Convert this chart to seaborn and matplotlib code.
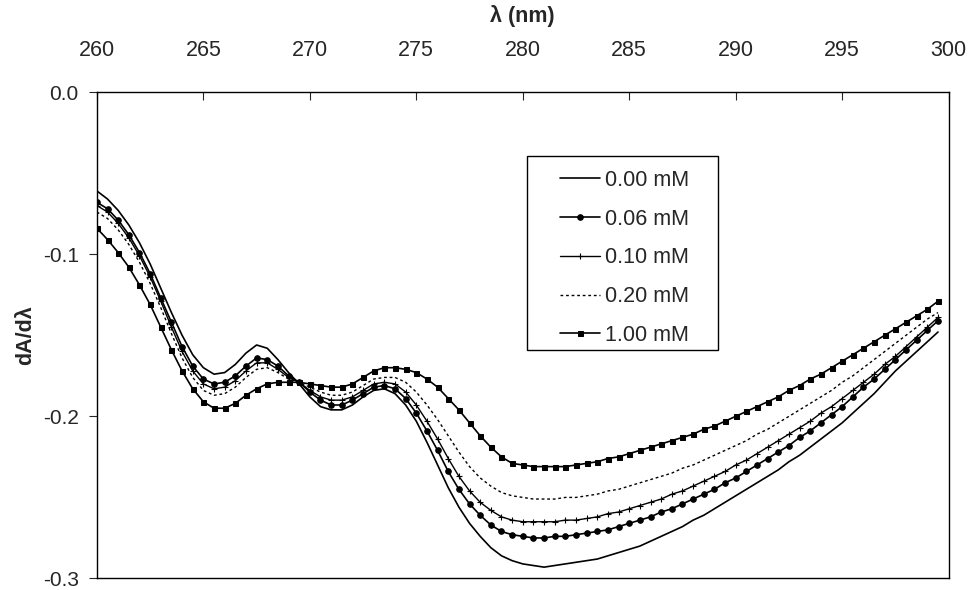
import numpy as np
import pandas as pd
import matplotlib
matplotlib.use("Agg")
import matplotlib.pyplot as plt
from matplotlib.lines import Line2D
from matplotlib.legend_handler import HandlerLine2D
from matplotlib.patches import Rectangle
import seaborn as sns

wavelength = [260 + 0.5 * i for i in range(80)]

s000 = [-0.061, -0.066, -0.073, -0.082, -0.093, -0.106, -0.121, -0.136, -0.150, -0.162,
        -0.170, -0.174, -0.173, -0.168, -0.161, -0.156, -0.158, -0.165, -0.173, -0.180,
        -0.188, -0.194, -0.196, -0.196, -0.193, -0.188, -0.184, -0.183, -0.186, -0.193,
        -0.203, -0.216, -0.230, -0.244, -0.256, -0.266, -0.274, -0.281, -0.286, -0.289,
        -0.291, -0.292, -0.293, -0.292, -0.291, -0.290, -0.289, -0.288, -0.286, -0.284,
        -0.282, -0.280, -0.277, -0.274, -0.271, -0.268, -0.264, -0.261, -0.257, -0.253,
        -0.249, -0.245, -0.241, -0.237, -0.233, -0.228, -0.224, -0.219, -0.214, -0.209,
        -0.204, -0.198, -0.192, -0.186, -0.179, -0.172, -0.166, -0.160, -0.154, -0.148]

s006 = [-0.068, -0.072, -0.079, -0.088, -0.099, -0.112, -0.127, -0.142, -0.157, -0.169,
        -0.177, -0.180, -0.179, -0.175, -0.169, -0.164, -0.165, -0.169, -0.175, -0.179,
        -0.185, -0.190, -0.193, -0.193, -0.190, -0.186, -0.182, -0.181, -0.183, -0.189,
        -0.198, -0.209, -0.221, -0.234, -0.245, -0.254, -0.261, -0.267, -0.271, -0.273,
        -0.274, -0.275, -0.275, -0.274, -0.274, -0.273, -0.272, -0.271, -0.270, -0.268,
        -0.266, -0.264, -0.262, -0.259, -0.257, -0.254, -0.251, -0.248, -0.245, -0.241,
        -0.238, -0.234, -0.230, -0.226, -0.222, -0.218, -0.213, -0.209, -0.204, -0.199,
        -0.194, -0.188, -0.182, -0.177, -0.171, -0.165, -0.159, -0.153, -0.147, -0.141]

s010 = [-0.070, -0.074, -0.081, -0.090, -0.101, -0.114, -0.129, -0.145, -0.160, -0.172,
        -0.180, -0.183, -0.182, -0.178, -0.172, -0.167, -0.167, -0.171, -0.176, -0.179,
        -0.184, -0.188, -0.190, -0.190, -0.188, -0.184, -0.180, -0.179, -0.180, -0.185,
        -0.193, -0.203, -0.214, -0.226, -0.237, -0.246, -0.253, -0.258, -0.262, -0.264,
        -0.265, -0.265, -0.265, -0.265, -0.264, -0.264, -0.263, -0.262, -0.260, -0.259,
        -0.257, -0.255, -0.253, -0.251, -0.248, -0.246, -0.243, -0.240, -0.237, -0.234,
        -0.230, -0.227, -0.223, -0.219, -0.215, -0.211, -0.207, -0.203, -0.198, -0.194,
        -0.189, -0.184, -0.179, -0.174, -0.168, -0.163, -0.157, -0.151, -0.145, -0.139]

s020 = [-0.074, -0.078, -0.085, -0.094, -0.105, -0.118, -0.133, -0.149, -0.164, -0.176,
        -0.184, -0.187, -0.186, -0.182, -0.176, -0.171, -0.170, -0.173, -0.177, -0.179,
        -0.182, -0.185, -0.187, -0.187, -0.185, -0.181, -0.177, -0.176, -0.176, -0.179,
        -0.185, -0.193, -0.202, -0.212, -0.222, -0.231, -0.238, -0.243, -0.247, -0.249,
        -0.250, -0.251, -0.251, -0.251, -0.250, -0.250, -0.249, -0.248, -0.246, -0.245,
        -0.243, -0.241, -0.239, -0.237, -0.235, -0.232, -0.230, -0.227, -0.224, -0.221,
        -0.218, -0.215, -0.211, -0.208, -0.204, -0.200, -0.196, -0.192, -0.188, -0.184,
        -0.179, -0.175, -0.170, -0.165, -0.160, -0.155, -0.150, -0.145, -0.140, -0.136]

s100 = [-0.084, -0.091, -0.099, -0.108, -0.119, -0.131, -0.145, -0.159, -0.172, -0.183,
        -0.191, -0.195, -0.195, -0.192, -0.187, -0.183, -0.180, -0.179, -0.179, -0.179,
        -0.180, -0.181, -0.182, -0.182, -0.180, -0.176, -0.172, -0.170, -0.170, -0.171,
        -0.173, -0.177, -0.182, -0.189, -0.196, -0.204, -0.212, -0.219, -0.225, -0.229,
        -0.230, -0.231, -0.231, -0.231, -0.231, -0.230, -0.229, -0.228, -0.226, -0.225,
        -0.223, -0.221, -0.219, -0.217, -0.215, -0.213, -0.211, -0.208, -0.206, -0.203,
        -0.200, -0.197, -0.194, -0.191, -0.188, -0.184, -0.181, -0.177, -0.174, -0.170,
        -0.166, -0.162, -0.158, -0.154, -0.150, -0.146, -0.142, -0.138, -0.134, -0.129]

labels = ["0.00 mM", "0.06 mM", "0.10 mM", "0.20 mM", "1.00 mM"]
series = [s000, s006, s010, s020, s100]

x_ticks = [260, 265, 270, 275, 280, 285, 290, 295, 300]
y_ticks = [0.0, -0.1, -0.2, -0.3]

sns.set_style("ticks")
plt.rcParams["font.family"] = ["Liberation Sans", "DejaVu Sans"]

fig = plt.figure(figsize=(9.69, 5.90), dpi=100)
ax = fig.add_axes([0.100, 0.0195, 0.879, 0.8245])

styles = [
    dict(marker=None, linestyle="-", linewidth=1.2),
    dict(marker="o", markersize=4, linestyle="-", linewidth=1.2),
    dict(marker="+", markersize=5, markeredgewidth=0.8, linestyle="-", linewidth=1.0),
    dict(marker=None, linestyle=(0, (2, 2)), linewidth=1.0),
    dict(marker="s", markersize=3.6, linestyle="-", linewidth=1.2),
]

for lab, vals, st in zip(labels, series, styles):
    df = pd.DataFrame({"wavelength": wavelength, "value": vals})
    sns.lineplot(data=df, x="wavelength", y="value", ax=ax, color="black",
                 label=lab, markeredgecolor="black", markerfacecolor="black", **st)

ax.set_xlim(260, 300)
ax.set_ylim(-0.3, 0.0)
ax.set_xticks(x_ticks)
ax.set_yticks(y_ticks)
ax.set_xticklabels([str(t) for t in x_ticks])
ax.set_yticklabels([f"{t:.1f}" if t != 0 else "0.0" for t in y_ticks])

ax.xaxis.tick_top()
ax.xaxis.set_label_position("top")
ax.tick_params(axis="x", direction="in", length=6, width=0.8, labelsize=15.5, pad=22)
ax.tick_params(axis="y", direction="out", length=6, width=0.8, labelsize=15, pad=7)

ax.set_xlabel("λ (nm)", fontsize=15.5, fontweight="bold", labelpad=13)
ax.set_ylabel("dA/dλ", fontsize=15.5, fontweight="bold", labelpad=5)

for sp in ax.spines.values():
    sp.set_visible(True)
    sp.set_color("black")
    sp.set_linewidth(1.0)

leg = ax.legend(loc="upper left", bbox_to_anchor=(0.5434, 0.8402), frameon=False,
                fontsize=15.5, handlelength=1.86, labelspacing=0.825, borderpad=0.0,
                handletextpad=0.23, borderaxespad=0,
                handler_map={Line2D: HandlerLine2D(numpoints=1)})

fig.add_artist(Rectangle((527 / 969, 1 - 350 / 590), 191 / 969, 194 / 590,
                         transform=fig.transFigure, fill=False, edgecolor="black",
                         linewidth=1.0))

fig.savefig("out.png", dpi=100)
